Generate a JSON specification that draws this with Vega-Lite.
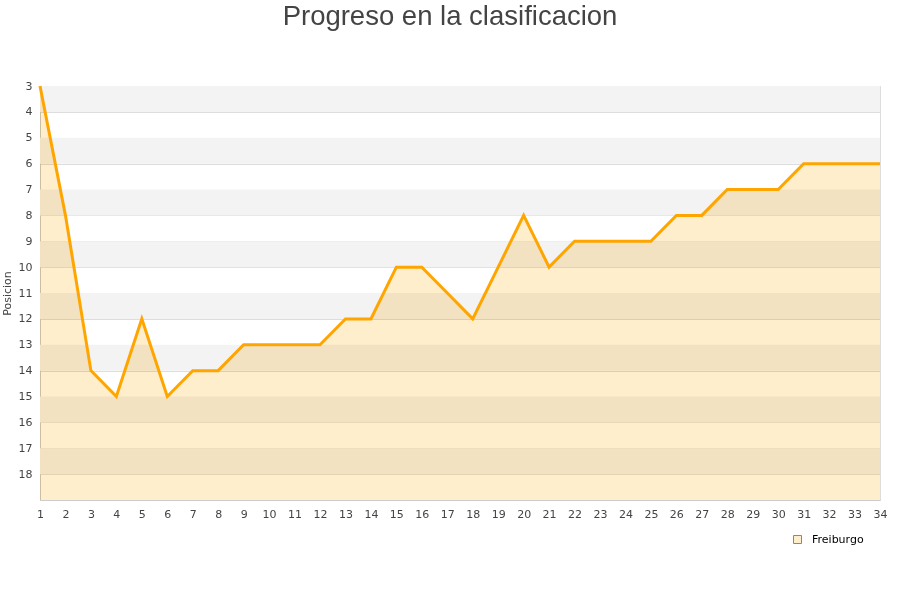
{
  "$schema": "https://vega.github.io/schema/vega-lite/v6.json",
  "width": 840,
  "height": 414,
  "autosize": "none",
  "padding": {"left": 40, "top": 86, "right": 20, "bottom": 100},
  "background": "white",
  "title": {"text": "Progreso en la clasificacion", "font": "Liberation Sans", "fontSize": 27.5, "fontWeight": "normal", "color": "#444444", "anchor": "middle", "offset": 50, "dx": -10},
  "config": {
    "view": {"stroke": "#dddddd"},
    "axis": {"labelFont": "DejaVu Sans", "labelFontSize": 11, "labelColor": "#444444", "ticks": false, "domainColor": "#cccccc", "gridColor": "#dddddd", "labelOverlap": false},
    "axisX": {"grid": false, "labelPadding": 8, "labelFlush": false, "title": null},
    "axisY": {"grid": true, "zindex": 1, "labelPadding": 8, "titleFont": "DejaVu Sans", "titleFontSize": 11, "titleFontWeight": "normal", "titleColor": "#444444", "titlePadding": 6}
  },
  "datasets": {
    "bands": [
      {"b": 3, "b2": 4}, {"b": 5, "b2": 6}, {"b": 7, "b2": 8}, {"b": 9, "b2": 10},
      {"b": 11, "b2": 12}, {"b": 13, "b2": 14}, {"b": 15, "b2": 16}, {"b": 17, "b2": 18}
    ],
    "pos": [
      {"jornada": 1, "posicion": 3, "equipo": "Freiburgo"},
      {"jornada": 2, "posicion": 8, "equipo": "Freiburgo"},
      {"jornada": 3, "posicion": 14, "equipo": "Freiburgo"},
      {"jornada": 4, "posicion": 15, "equipo": "Freiburgo"},
      {"jornada": 5, "posicion": 12, "equipo": "Freiburgo"},
      {"jornada": 6, "posicion": 15, "equipo": "Freiburgo"},
      {"jornada": 7, "posicion": 14, "equipo": "Freiburgo"},
      {"jornada": 8, "posicion": 14, "equipo": "Freiburgo"},
      {"jornada": 9, "posicion": 13, "equipo": "Freiburgo"},
      {"jornada": 10, "posicion": 13, "equipo": "Freiburgo"},
      {"jornada": 11, "posicion": 13, "equipo": "Freiburgo"},
      {"jornada": 12, "posicion": 13, "equipo": "Freiburgo"},
      {"jornada": 13, "posicion": 12, "equipo": "Freiburgo"},
      {"jornada": 14, "posicion": 12, "equipo": "Freiburgo"},
      {"jornada": 15, "posicion": 10, "equipo": "Freiburgo"},
      {"jornada": 16, "posicion": 10, "equipo": "Freiburgo"},
      {"jornada": 17, "posicion": 11, "equipo": "Freiburgo"},
      {"jornada": 18, "posicion": 12, "equipo": "Freiburgo"},
      {"jornada": 19, "posicion": 10, "equipo": "Freiburgo"},
      {"jornada": 20, "posicion": 8, "equipo": "Freiburgo"},
      {"jornada": 21, "posicion": 10, "equipo": "Freiburgo"},
      {"jornada": 22, "posicion": 9, "equipo": "Freiburgo"},
      {"jornada": 23, "posicion": 9, "equipo": "Freiburgo"},
      {"jornada": 24, "posicion": 9, "equipo": "Freiburgo"},
      {"jornada": 25, "posicion": 9, "equipo": "Freiburgo"},
      {"jornada": 26, "posicion": 8, "equipo": "Freiburgo"},
      {"jornada": 27, "posicion": 8, "equipo": "Freiburgo"},
      {"jornada": 28, "posicion": 7, "equipo": "Freiburgo"},
      {"jornada": 29, "posicion": 7, "equipo": "Freiburgo"},
      {"jornada": 30, "posicion": 7, "equipo": "Freiburgo"},
      {"jornada": 31, "posicion": 6, "equipo": "Freiburgo"},
      {"jornada": 32, "posicion": 6, "equipo": "Freiburgo"},
      {"jornada": 33, "posicion": 6, "equipo": "Freiburgo"},
      {"jornada": 34, "posicion": 6, "equipo": "Freiburgo"}
    ]
  },
  "layer": [
    {
      "data": {"name": "bands"},
      "mark": {"type": "rect", "color": "#f3f3f3"},
      "encoding": {
        "y": {"field": "b", "type": "quantitative", "scale": {"domain": [3, 19], "reverse": true, "nice": false, "zero": false}, "axis": {"values": [3,4,5,6,7,8,9,10,11,12,13,14,15,16,17,18], "title": "Posicion"}},
        "y2": {"field": "b2"}
      }
    },
    {
      "data": {"name": "pos"},
      "mark": {"type": "area", "blend": "multiply", "line": false},
      "encoding": {
        "x": {"field": "jornada", "type": "quantitative", "scale": {"domain": [1, 34], "nice": false, "zero": false}, "axis": {"values": [1,2,3,4,5,6,7,8,9,10,11,12,13,14,15,16,17,18,19,20,21,22,23,24,25,26,27,28,29,30,31,32,33,34], "format": "d"}},
        "y": {"field": "posicion", "type": "quantitative", "axis": {"values": [3,4,5,6,7,8,9,10,11,12,13,14,15,16,17,18], "title": "Posicion"}},
        "y2": {"datum": 19},
        "fill": {"field": "equipo", "type": "nominal", "scale": {"range": ["#ffeecc"]}, "legend": {"orient": "none", "legendX": 752, "legendY": 448, "title": null, "symbolType": "square", "symbolSize": 64, "symbolStrokeColor": "#888888", "symbolStrokeWidth": 1, "symbolOpacity": 1, "labelOffset": 9, "labelFont": "DejaVu Sans", "labelFontSize": 11, "labelColor": "#000000"}}
      }
    },
    {
      "data": {"name": "pos"},
      "mark": {"type": "line", "color": "#ffa500", "strokeWidth": 3},
      "encoding": {
        "x": {"field": "jornada", "type": "quantitative", "axis": {"values": [1,2,3,4,5,6,7,8,9,10,11,12,13,14,15,16,17,18,19,20,21,22,23,24,25,26,27,28,29,30,31,32,33,34], "format": "d"}},
        "y": {"field": "posicion", "type": "quantitative", "axis": {"values": [3,4,5,6,7,8,9,10,11,12,13,14,15,16,17,18], "title": "Posicion"}}
      }
    }
  ]
}
